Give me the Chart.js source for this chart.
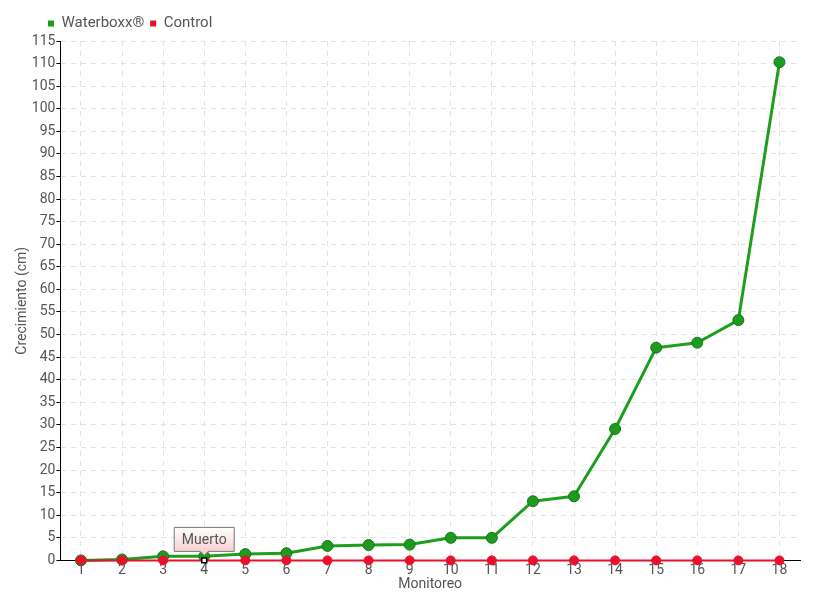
<!DOCTYPE html>
<html>
<head>
<meta charset="utf-8">
<script src="https://cdn.jsdelivr.net/npm/chart.js@4/dist/chart.umd.min.js"></script>
<style>
  html, body { margin: 0; padding: 0; background: #fff; }
  #wrap { width: 820px; height: 600px; }
</style>
</head>
<body>
<div id="wrap"><canvas id="grafico"></canvas></div>
<script>
const monitoreos = ['1','2','3','4','5','6','7','8','9','10','11','12','13','14','15','16','17','18'];
const waterboxx = [0, 0.2, 0.9, 0.9, 1.4, 1.6, 3.2, 3.4, 3.5, 5.0, 5.0, 13.1, 14.2, 29.1, 47.1, 48.2, 53.2, 110.3];
const control = [0, 0, 0, 0, 0, 0, 0, 0, 0, 0, 0, 0, 0, 0, 0, 0, 0, 0];
const notaIndice = 3;
const notaTexto = 'Muerto';

const fuente = "Roboto, 'Liberation Sans', sans-serif";
const gris = '#555';

// caja "Muerto" sobre el punto de control
const notaPlugin = {
    id: 'nota',
    afterUpdate(chart) {
        // leyenda un poco desplazada a la derecha
        if (chart.legend) chart.legend.left += 28;
    },
    afterDatasetsDraw(chart) {
        const meta = chart.getDatasetMeta(1);
        const p = meta.data[notaIndice];
        if (!p) return;
        const ctx = chart.ctx;
        const w = 60, h = 24;
        const x0 = p.x - w / 2, y1 = p.y - 9, y0 = y1 - h;
        ctx.save();
        const grad = ctx.createLinearGradient(0, y0, 0, y1);
        grad.addColorStop(0, '#ffffff');
        grad.addColorStop(1, '#f8d0d0');
        ctx.beginPath();
        ctx.moveTo(x0, y0);
        ctx.lineTo(x0 + w, y0);
        ctx.lineTo(x0 + w, y1);
        ctx.lineTo(p.x + 4, y1);
        ctx.lineTo(p.x, y1 + 4);
        ctx.lineTo(p.x - 4, y1);
        ctx.lineTo(x0, y1);
        ctx.closePath();
        ctx.fillStyle = grad;
        ctx.fill();
        ctx.strokeStyle = '#777';
        ctx.lineWidth = 1;
        ctx.stroke();
        ctx.fillStyle = gris;
        ctx.font = '14px ' + fuente;
        ctx.textAlign = 'center';
        ctx.textBaseline = 'middle';
        ctx.fillText(notaTexto, p.x, y0 + h / 2 + 1);
        ctx.restore();
    }
};

new Chart(document.getElementById('grafico'), {
    type: 'line',
    data: {
        labels: monitoreos,
        datasets: [{
            label: 'Waterboxx®',
            data: waterboxx,
            borderColor: '#1e9e1e',
            backgroundColor: '#1e9a1e',
            pointBorderColor: '#17761a',
            pointBorderWidth: 1,
            borderWidth: 3,
            pointRadius: 5.5,
            tension: 0,
            clip: false,
            order: 1
        }, {
            label: 'Control',
            data: control,
            borderColor: '#e8102a',
            backgroundColor: '#e8102a',
            borderWidth: 2,
            pointRadius: control.map((v, i) => i === notaIndice ? 3.5 : 4.5),
            pointStyle: control.map((v, i) => i === notaIndice ? 'rect' : 'circle'),
            pointBackgroundColor: control.map((v, i) => i === notaIndice ? '#fff' : '#e8102a'),
            pointBorderColor: control.map((v, i) => i === notaIndice ? '#000' : '#e8102a'),
            pointBorderWidth: control.map((v, i) => i === notaIndice ? 1.5 : 1),
            tension: 0,
            clip: false,
            order: 0
        }]
    },
    options: {
        responsive: true,
        maintainAspectRatio: false,
        animation: false,
        layout: { padding: { left: 14, right: 20, top: 10, bottom: 7 } },
        plugins: {
            legend: {
                position: 'top',
                align: 'start',
                labels: {
                    boxWidth: 6,
                    boxHeight: 6,
                    padding: 6,
                    color: gris,
                    font: { family: fuente, size: 15 },
                    generateLabels(chart) {
                        return chart.data.datasets.map((d, i) => ({
                            text: d.label,
                            fillStyle: d.backgroundColor,
                            strokeStyle: d.backgroundColor,
                            lineWidth: 0,
                            fontColor: gris,
                            datasetIndex: i
                        }));
                    }
                }
            },
            tooltip: { enabled: false }
        },
        scales: {
            x: {
                offset: true,
                title: { display: true, text: 'Monitoreo', color: gris, font: { family: fuente, size: 14 }, padding: { top: -5, bottom: 0 } },
                ticks: { color: gris, font: { family: fuente, size: 14 }, padding: 2, maxRotation: 0 },
                grid: { offset: false, color: '#e2e2e2', drawTicks: false, tickLength: 0 },
                border: { color: '#000', width: 1, dash: [5, 5] }
            },
            y: {
                min: 0,
                max: 115,
                title: { display: true, text: 'Crecimiento (cm)', color: gris, font: { family: fuente, size: 14 }, padding: { top: 0, bottom: 0 } },
                ticks: { stepSize: 5, color: gris, font: { family: fuente, size: 14 }, padding: 1 },
                grid: { color: '#e2e2e2', tickColor: '#000', tickLength: 4, tickBorderDash: [] },
                border: { color: '#000', width: 1, dash: [5, 5] }
            }
        },
        elements: { line: { borderJoinStyle: 'round' } }
    },
    plugins: [notaPlugin]
});
</script>
</body>
</html>
